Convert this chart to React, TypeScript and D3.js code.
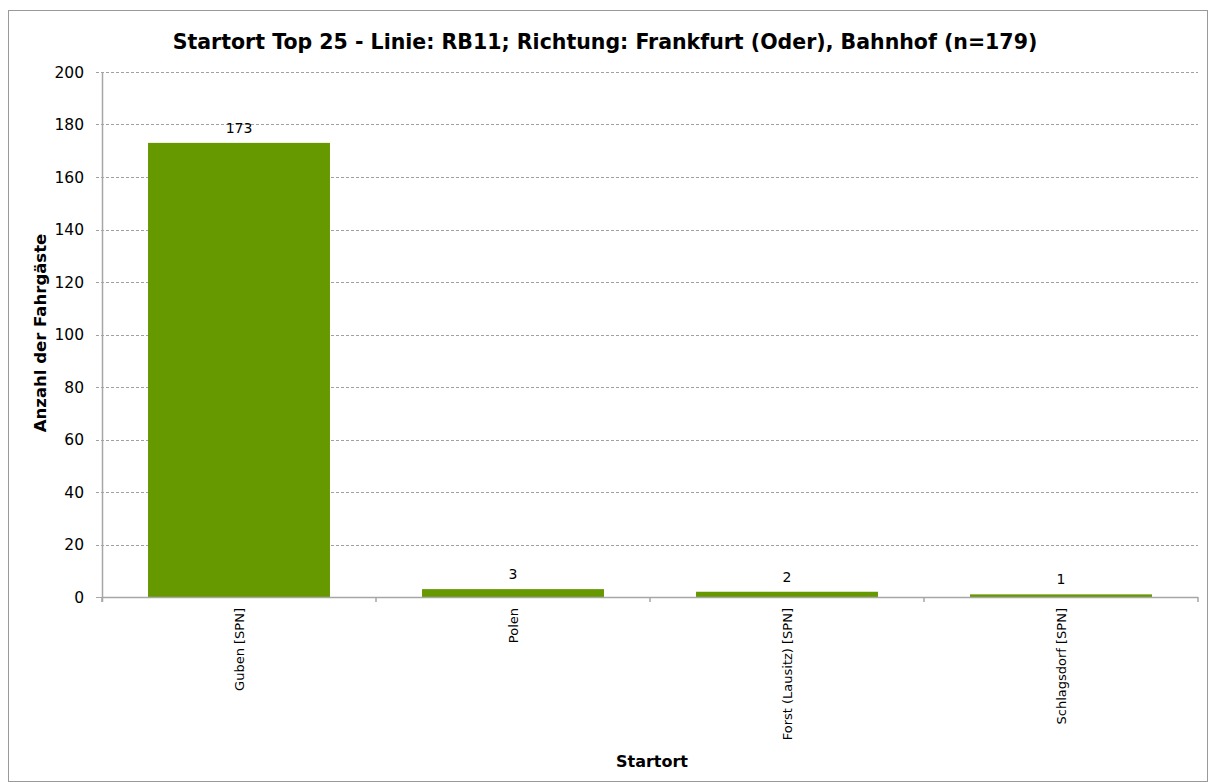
import React, { useEffect, useRef } from 'react';
import * as d3 from 'd3';

const categories = ['Guben [SPN]', 'Polen', 'Forst (Lausitz) [SPN]', 'Schlagsdorf [SPN]'];
const values = [173, 3, 2, 1];
const yTicks = [0, 20, 40, 60, 80, 100, 120, 140, 160, 180, 200];
const title = 'Startort Top 25 - Linie: RB11; Richtung: Frankfurt (Oder), Bahnhof (n=179)';

export default function App() {
    const ref = useRef<SVGSVGElement | null>(null);
    useEffect(() => {
        const svg = d3.select(ref.current);
        svg.selectAll('*').remove();
        const width = 1208, height = 782;
        const margin = { top: 72, right: 10, bottom: 185, left: 102 };
        const font = 'Tahoma, "DejaVu Sans", Verdana, sans-serif';

        const x = d3.scaleBand().domain(categories).range([margin.left, width - margin.right]).paddingInner(0.336).paddingOuter(0.168);
        const y = d3.scaleLinear().domain([0, 200]).range([height - margin.bottom, margin.top]);
        const bounds = categories.map(c => (x(c) as number) - x.step() * x.paddingInner() / 2);
        bounds.push(width - margin.right);

        svg.append('rect')
            .attr('x', 8.5).attr('y', 10.5).attr('width', 1199).attr('height', 771)
            .attr('fill', '#fff').attr('stroke', '#9a9a9a');

        svg.append('text')
            .attr('x', 605).attr('y', 49).attr('text-anchor', 'middle')
            .attr('font-family', font).attr('font-weight', 'bold').attr('font-size', 20.5)
            .text(title);

        // grid
        svg.append('g').selectAll('line').data(yTicks.filter(t => t > 0)).join('line')
            .attr('x1', margin.left - 6).attr('x2', width - margin.right)
            .attr('y1', d => Math.round(y(d)) + 0.5).attr('y2', d => Math.round(y(d)) + 0.5)
            .attr('stroke', '#a0a0a0').attr('stroke-dasharray', '3,2');

        // left tick labels
        svg.append('g').selectAll('text').data(yTicks).join('text')
            .attr('x', 84).attr('y', d => y(d) + 5.5).attr('text-anchor', 'end')
            .attr('font-family', font).attr('font-size', 15.5).attr('fill', '#000')
            .text(d => d);
        svg.append('line')
            .attr('x1', margin.left - 6).attr('x2', margin.left)
            .attr('y1', Math.round(y(0)) + 0.5).attr('y2', Math.round(y(0)) + 0.5)
            .attr('stroke', '#a6a6a6');

        // bars
        svg.append('g').selectAll('rect').data(values).join('rect')
            .attr('x', (d, i) => x(categories[i]) as number)
            .attr('width', x.bandwidth())
            .attr('y', d => y(d))
            .attr('height', d => y(0) - y(d))
            .attr('fill', '#669900');

        // axis lines
        svg.append('line')
            .attr('x1', margin.left + 0.5).attr('x2', margin.left + 0.5)
            .attr('y1', margin.top).attr('y2', y(0) + 5)
            .attr('stroke', '#a6a6a6').attr('stroke-width', 1.5);
        svg.append('line')
            .attr('x1', margin.left).attr('x2', width - margin.right)
            .attr('y1', Math.round(y(0)) + 0.5).attr('y2', Math.round(y(0)) + 0.5)
            .attr('stroke', '#a6a6a6').attr('stroke-width', 1.5);
        svg.append('g').selectAll('line').data(bounds).join('line')
            .attr('x1', d => d).attr('x2', d => d)
            .attr('y1', y(0)).attr('y2', y(0) + 5)
            .attr('stroke', '#a6a6a6').attr('stroke-width', 1.5);

        // value labels
        svg.append('g').selectAll('text').data(values).join('text')
            .attr('x', (d, i) => (x(categories[i]) as number) + x.bandwidth() / 2)
            .attr('y', d => y(d) - 10)
            .attr('text-anchor', 'middle')
            .attr('font-family', font).attr('font-size', 14)
            .text(d => d);

        // category labels
        svg.append('g').selectAll('text').data(categories).join('text')
            .attr('transform', d => `translate(${(x(d) as number) + x.bandwidth() / 2 + 4.5},${y(0) + 11}) rotate(-90)`)
            .attr('text-anchor', 'end')
            .attr('font-family', font).attr('font-size', 13)
            .text(d => d);

        svg.append('text')
            .attr('x', 652).attr('y', 767).attr('text-anchor', 'middle')
            .attr('font-family', font).attr('font-weight', 'bold').attr('font-size', 16)
            .text('Startort');

        svg.append('text')
            .attr('transform', `translate(46,333) rotate(-90)`)
            .attr('text-anchor', 'middle')
            .attr('font-family', font).attr('font-weight', 'bold').attr('font-size', 16.5)
            .text('Anzahl der Fahrgäste');
    }, []);
    return <svg ref={ref} width={1208} height={782} style={{ position: 'absolute', left: 0, top: 0 }} />;
}
